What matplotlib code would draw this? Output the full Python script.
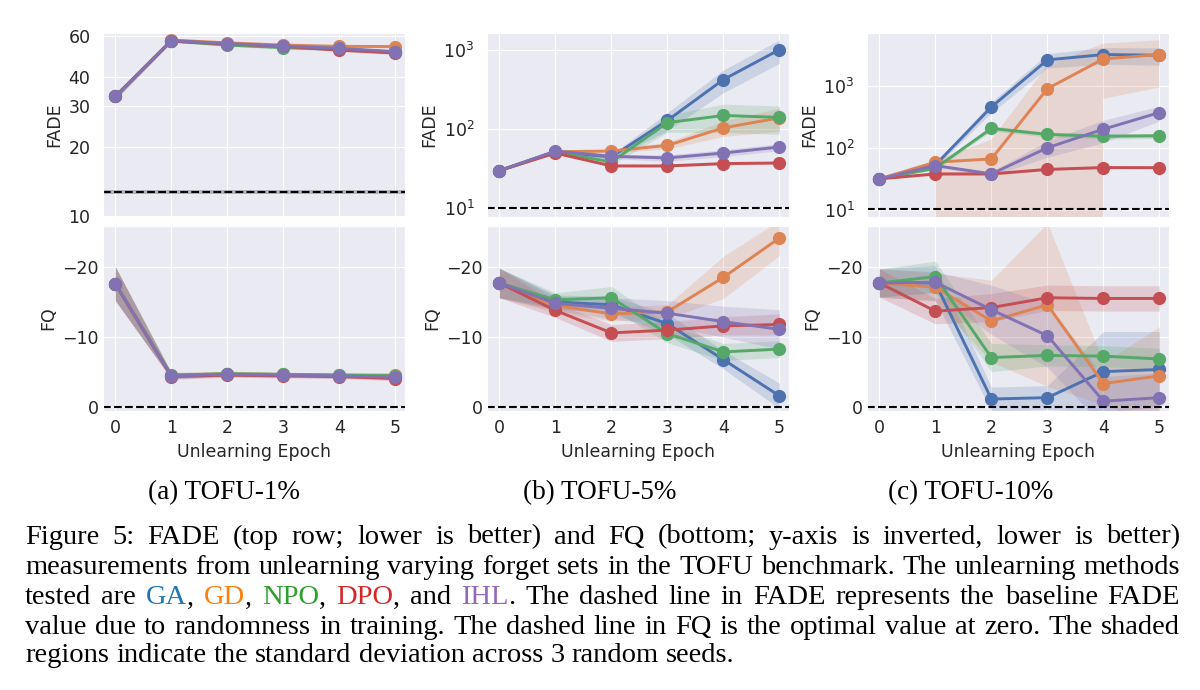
import numpy as np
import matplotlib
matplotlib.use("Agg")
import matplotlib.pyplot as plt
import matplotlib.ticker as mticker
import seaborn as sns

# ---- data ----
epochs = [0, 1, 2, 3, 4, 5]
methods = ["GA", "GD", "NPO", "DPO", "IHL"]
panel_titles = ["(a) TOFU-1%", "(b) TOFU-5%", "(c) TOFU-10%"]

# FADE mean / std, one dict per forget set
fade_1 = {
    "GA": [33, 57.5, 55.5, 54.2, 52.9, 51.2],
    "GD": [33, 57.8, 56.2, 55.0, 54.3, 54.2],
    "NPO": [33, 57.3, 55.0, 53.6, 52.7, 51.4],
    "DPO": [33, 57.2, 55.6, 54.3, 52.3, 50.8],
    "IHL": [33, 57.5, 55.8, 54.5, 53.2, 51.5],
}
fade_1_std = {
    "GA": [1.0, 0.8, 0.8, 0.8, 0.8, 0.8],
    "GD": [1.0, 0.8, 0.8, 0.8, 0.8, 0.8],
    "NPO": [1.0, 0.8, 0.8, 0.8, 0.8, 0.8],
    "DPO": [1.0, 0.8, 0.8, 0.8, 0.8, 0.8],
    "IHL": [1.0, 0.8, 0.8, 0.8, 0.8, 0.8],
}
fade_5 = {
    "GA": [30, 52, 44.6, 129, 423, 1009],
    "GD": [30, 52, 53, 62.5, 104, 139],
    "NPO": [30, 52, 38.5, 121, 149, 141],
    "DPO": [30, 50, 34.4, 34.4, 36.8, 37.5],
    "IHL": [30, 53, 45.5, 43.4, 50, 59.6],
}
fade_5_std = {
    "GA": [1, 2, 3, 33, 135, 330],
    "GD": [1, 2, 3, 6, 23, 45],
    "NPO": [1, 2, 3, 30, 58, 55],
    "DPO": [1, 1, 1, 1, 1.5, 1.5],
    "IHL": [1, 2, 3, 4, 5, 6],
}
fade_10 = {
    "GA": [31.6, 53, 463, 2690, 3280, 3200],
    "GD": [31.6, 58.8, 66.5, 918, 2790, 3280],
    "NPO": [31.6, 47, 208, 166, 155, 158],
    "DPO": [31.6, 38, 38, 45, 48.2, 48],
    "IHL": [31.6, 51.9, 38, 101, 202, 376],
}
fade_10_std = {
    "GA": [1, 4, 90, 700, 1000, 1000],
    "GD": [1, 4, 70, 1270, 2160, 2320],
    "NPO": [1, 3, 20, 15, 15, 15],
    "DPO": [1, 2, 2, 2, 2, 2],
    "IHL": [1, 3, 3, 30, 80, 100],
}
baseline_fade = [12.7, 10.1, 10.3]
baseline_fade_std = [0.25, 0.1, 0.1]

# FQ mean / std
fq_1 = {
    "GA": [-17.6, -4.5, -4.7, -4.6, -4.5, -4.4],
    "GD": [-17.6, -4.6, -4.8, -4.7, -4.6, -4.6],
    "NPO": [-17.6, -4.6, -4.8, -4.7, -4.6, -4.5],
    "DPO": [-17.6, -4.4, -4.6, -4.5, -4.4, -4.1],
    "IHL": [-17.6, -4.5, -4.7, -4.6, -4.5, -4.3],
}
fq_1_std = {
    "GA": [2.4, 0.4, 0.3, 0.3, 0.3, 0.3],
    "GD": [2.4, 0.4, 0.3, 0.3, 0.3, 0.3],
    "NPO": [2.4, 0.4, 0.3, 0.3, 0.3, 0.3],
    "DPO": [2.4, 0.4, 0.3, 0.3, 0.3, 0.3],
    "IHL": [2.4, 0.4, 0.3, 0.3, 0.3, 0.3],
}
fq_5 = {
    "GA": [-17.7, -15.0, -14.6, -11.9, -6.8, -1.65],
    "GD": [-17.7, -14.5, -13.3, -13.6, -18.5, -24.1],
    "NPO": [-17.7, -15.3, -15.6, -10.5, -7.9, -8.3],
    "DPO": [-17.7, -13.8, -10.6, -11.0, -11.6, -11.8],
    "IHL": [-17.7, -14.8, -14.1, -13.4, -12.2, -11.1],
}
fq_5_std = {
    "GA": [2.1, 1.0, 1.2, 1.5, 1.3, 1.8],
    "GD": [2.1, 1.0, 1.0, 1.0, 3.0, 2.5],
    "NPO": [2.1, 1.0, 1.6, 1.3, 1.2, 1.2],
    "DPO": [2.1, 1.0, 1.2, 1.2, 1.3, 1.5],
    "IHL": [2.1, 1.0, 1.5, 1.8, 2.2, 2.8],
}
fq_10 = {
    "GA": [-17.7, -17.7, -1.2, -1.4, -5.1, -5.4],
    "GD": [-17.7, -17.1, -12.3, -14.6, -3.4, -4.5],
    "NPO": [-17.7, -18.6, -7.1, -7.4, -7.3, -6.9],
    "DPO": [-17.7, -13.7, -14.2, -15.6, -15.5, -15.5],
    "IHL": [-17.7, -17.8, -13.9, -10.2, -0.9, -1.4],
}
fq_10_std = {
    "GA": [2.0, 2.5, 1.7, 1.7, 5.7, 5.4],
    "GD": [2.0, 2.0, 5.8, 11.6, 3.0, 7.0],
    "NPO": [2.0, 2.2, 2.0, 1.5, 1.5, 1.5],
    "DPO": [2.0, 1.8, 2.0, 1.8, 1.8, 1.8],
    "IHL": [2.0, 1.5, 3.5, 4.5, 3.5, 3.5],
}

fade_all = [(fade_1, fade_1_std), (fade_5, fade_5_std), (fade_10, fade_10_std)]
fq_all = [(fq_1, fq_1_std), (fq_5, fq_5_std), (fq_10, fq_10_std)]
fade_ylims = [(9.95, 62), (7.8, 1636), (7.6, 7340)]

line_colors = dict(zip(methods, sns.color_palette("deep", 5).as_hex()))
text_colors = {"GA": "#1f77b4", "GD": "#ff7f0e", "NPO": "#2ca02c",
               "DPO": "#d62728", "IHL": "#9467bd"}

caption_lines = [
    "Figure 5: FADE (top row; lower is better) and FQ (bottom; y-axis is inverted, lower is better)",
    "measurements from unlearning varying forget sets in the TOFU benchmark. The unlearning methods",
    "tested are GA, GD, NPO, DPO, and IHL. The dashed line in FADE represents the baseline FADE",
    "value due to randomness in training. The dashed line in FQ is the optimal value at zero. The shaded",
    "regions indicate the standard deviation across 3 random seeds.",
]

# ---- figure ----
sns.set_style("darkgrid")
plt.rcParams["font.family"] = ["DejaVu Sans"]
W, H = 1200, 690
fig = plt.figure(figsize=(12, 6.9), dpi=100)

lefts = [103, 487, 867]
panel_w = 302
FS = 12.5


def draw_series(ax, x, mean, std):
    for m in methods:
        mu = np.array(mean[m], dtype=float)
        sd = np.array(std[m], dtype=float)
        c = line_colors[m]
        ax.fill_between(x, mu - sd, mu + sd, color=c, alpha=0.2, linewidth=0)
        ax.plot(x, mu, color=c, lw=2.1, marker="o", ms=9.5, mew=0)


for i in range(3):
    l = lefts[i] / W
    ax_t = fig.add_axes([l, 1 - 217 / H, panel_w / W, 184 / H])
    ax_b = fig.add_axes([l, 1 - 411 / H, panel_w / W, 185 / H])

    # FADE (log)
    mean, std = fade_all[i]
    ax_t.set_yscale("log")
    draw_series(ax_t, epochs, mean, std)
    b, bs = baseline_fade[i], baseline_fade_std[i]
    ax_t.axhspan(b - bs, b + bs, color="gray", alpha=0.5, lw=0)
    ax_t.axhline(b, color="black", ls="--", lw=1.5)
    ax_t.set_ylim(*fade_ylims[i])
    if i == 0:
        ax_t.yaxis.set_major_locator(mticker.FixedLocator([10, 20, 30, 40, 60]))
        ax_t.yaxis.set_major_formatter(mticker.FixedFormatter(["10", "20", "30", "40", "60"]))
        ax_t.yaxis.set_minor_locator(mticker.NullLocator())
    ax_t.yaxis.set_minor_formatter(mticker.NullFormatter())
    ax_t.set_ylabel("FADE", fontsize=FS)
    ax_t.tick_params(axis="y", labelsize=FS, length=0, pad=9)
    ax_t.tick_params(axis="x", labelbottom=False, length=0)

    # FQ (inverted)
    mean, std = fq_all[i]
    draw_series(ax_b, epochs, mean, std)
    ax_b.axhline(0, color="black", ls="--", lw=1.5)
    ax_b.set_ylim(0.5, -25.8)
    ax_b.set_yticks([0, -10, -20])
    ax_b.set_ylabel("FQ", fontsize=FS)
    ax_b.set_xlabel("Unlearning Epoch", fontsize=FS)
    ax_b.tick_params(axis="y", labelsize=FS, length=0, pad=3)
    ax_b.tick_params(axis="x", labelsize=FS, length=0, pad=6)

    for ax in (ax_t, ax_b):
        ax.set_xlim(-0.22, 5.17)
        ax.set_xticks(epochs)

# ---- captions ----
CAP_FS = 20.5
SUB_FS = 19.5
SERIF = ["Liberation Serif", "DejaVu Serif"]
sub_x = [224, 600, 971]
for t, xc in zip(panel_titles, sub_x):
    fig.text(xc / W, 1 - 493 / H, t, ha="center", va="center",
             fontsize=SUB_FS, family=SERIF, color="black")

rend = fig.canvas.get_renderer()
X0, X1 = 25, 1180
cap_y = [537, 568, 598, 627, 656]


def split_word(w):
    core = w.rstrip(".,")
    if core in text_colors:
        pieces = [(core, text_colors[core])]
        if w[len(core):]:
            pieces.append((w[len(core):], "black"))
        return pieces
    return [(w, "black")]


def text_width(s):
    t = fig.text(0, 0, s, fontsize=CAP_FS, family=SERIF)
    wd = t.get_window_extent(rend).width
    t.remove()
    return wd


space_w = text_width("a a") - text_width("aa")

for k, (line, y) in enumerate(zip(caption_lines, cap_y)):
    words = [split_word(w) for w in line.split(" ")]
    objs = []
    for pieces in words:
        row = []
        for s, col in pieces:
            t = fig.text(0, 1 - y / H, s, fontsize=CAP_FS, family=SERIF,
                         color=col, ha="left", va="center")
            row.append((t, t.get_window_extent(rend).width))
        objs.append(row)
    total = sum(wd for row in objs for _, wd in row)
    last = k == len(caption_lines) - 1
    gap = space_w if last else (X1 - X0 - total) / (len(objs) - 1)
    x = X0
    for row in objs:
        for t, wd in row:
            t.set_x(x / W)
            x += wd
        x += gap

fig.savefig("out.png", dpi=100)
